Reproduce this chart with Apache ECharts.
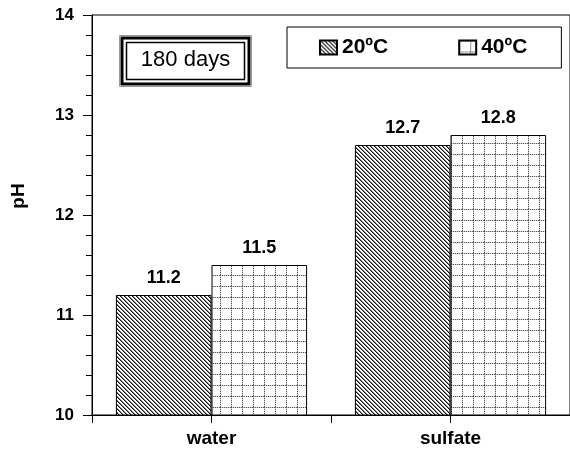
<!DOCTYPE html>
<html>
<head>
<meta charset="utf-8">
<script src="https://cdn.jsdelivr.net/npm/echarts@6/dist/echarts.min.js"></script>
<style>
html,body{margin:0;padding:0;background:#fff;}
#chart{width:570px;height:451px;}
</style>
</head>
<body>
<div id="chart"></div>
<script>
const categories = ['water', 'sulfate'];
const series20 = [11.2, 12.7];
const series40 = [11.5, 12.8];
const seriesNames = ['20ºC', '40ºC'];
const yTicks = [10, 11, 12, 13, 14];
const boxText = '180 days';

function hatchTile() {
  const s = 4;
  const c = document.createElement('canvas');
  c.width = s; c.height = s;
  const ctx = c.getContext('2d');
  const img = ctx.createImageData(s, s);
  for (let y = 0; y < s; y++) {
    for (let x = 0; x < s; x++) {
      const k = ((x - y) % s + s) % s;
      let v = 255;
      if (k === 0) v = 15;
      else if (k === 1) v = 130;
      const i = (y * s + x) * 4;
      img.data[i] = img.data[i+1] = img.data[i+2] = v;
      img.data[i+3] = 255;
    }
  }
  ctx.putImageData(img, 0, 0);
  return c;
}
function gridTile() {
  const s = 11;
  const c = document.createElement('canvas');
  c.width = s; c.height = s;
  const ctx = c.getContext('2d');
  const img = ctx.createImageData(s, s);
  for (let y = 0; y < s; y++) {
    for (let x = 0; x < s; x++) {
      let v = 255;
      if (x === 0) v = (y % 2 === 0) ? 90 : 205;
      if (y === 0) v = (x % 2 === 0) ? 90 : 205;
      const i = (y * s + x) * 4;
      img.data[i] = img.data[i+1] = img.data[i+2] = v;
      img.data[i+3] = 255;
    }
  }
  ctx.putImageData(img, 0, 0);
  return c;
}

const FONT = '"Liberation Sans", Arial, Helvetica, sans-serif';
const chart = echarts.init(document.getElementById('chart'), null, {renderer: 'canvas'});

const labelCfg = {
  show: true,
  position: 'top',
  distance: 8,
  color: '#000',
  fontFamily: FONT,
  fontWeight: 'bold',
  fontSize: 18,
  formatter: p => p.value.toFixed(1)
};

chart.setOption({
  animation: false,
  backgroundColor: '#fff',
  grid: {
    left: 92, top: 15, right: -2, bottom: 36,
    show: true, borderColor: '#000', borderWidth: 1, backgroundColor: 'transparent'
  },
  legend: {
    data: seriesNames,
    left: 287, top: 27,
    padding: [10, 34, 10, 32],
    itemGap: 70,
    itemWidth: 17, itemHeight: 14,
    borderColor: '#000', borderWidth: 1,
    icon: 'rect',
    textStyle: {fontFamily: FONT, fontWeight: 'bold', fontSize: 21, color: '#000'}
  },
  xAxis: [{
    type: 'category',
    data: categories,
    axisLine: {show: true, lineStyle: {color: '#000', width: 1}},
    axisTick: {show: false},
    axisLabel: {margin: 14, color: '#000', fontFamily: FONT, fontWeight: 'bold', fontSize: 19},
    splitLine: {show: false}
  }, {
    type: 'value',
    position: 'bottom',
    min: 0, max: 2, interval: 0.5,
    axisLine: {show: false},
    axisTick: {show: true, length: 8, lineStyle: {color: '#000', width: 1}},
    axisLabel: {show: false},
    splitLine: {show: false}
  }],
  yAxis: {
    type: 'value',
    min: yTicks[0], max: yTicks[yTicks.length - 1], interval: 1,
    axisLine: {show: true, lineStyle: {color: '#000', width: 1}},
    axisTick: {show: true, length: 9, lineStyle: {color: '#000', width: 1}},
    minorTick: {show: true, splitNumber: 5, length: 6, lineStyle: {color: '#000', width: 1}},
    axisLabel: {margin: 18, color: '#000', fontFamily: FONT, fontWeight: 'bold', fontSize: 17,
      formatter: v => String(v)},
    splitLine: {show: false}
  },
  series: [{
    name: seriesNames[0],
    type: 'bar',
    data: series20,
    barWidth: '40%',
    barGap: '0%',
    itemStyle: {color: {image: hatchTile(), repeat: 'repeat'}, borderColor: '#000', borderWidth: 1},
    label: labelCfg
  }, {
    name: seriesNames[1],
    type: 'bar',
    data: series40,
    barWidth: '40%',
    barGap: '0%',
    itemStyle: {color: {image: gridTile(), repeat: 'repeat'}, borderColor: '#000', borderWidth: 1},
    label: labelCfg
  }],
  graphic: [
    {type: 'rect', shape: {x: 119.5, y: 35.5, width: 132, height: 51}, style: {fill: '#fff', stroke: '#999', lineWidth: 1}, z: 10},
    {type: 'rect', shape: {x: 122, y: 38, width: 127, height: 46}, style: {fill: 'none', stroke: '#000', lineWidth: 3}, z: 11},
    {type: 'rect', shape: {x: 126.5, y: 42.5, width: 118, height: 37}, style: {fill: 'none', stroke: '#000', lineWidth: 1.5}, z: 11},
    {type: 'text', x: 185.5, y: 60, z: 12, style: {text: boxText, fill: '#000', font: '22px ' + FONT, align: 'center', verticalAlign: 'middle'}},
    {type: 'text', x: 19, y: 196, rotation: Math.PI / 2, z: 12, style: {text: 'pH', fill: '#000', font: 'bold 19px ' + FONT, align: 'center', verticalAlign: 'middle'}}
  ]
});
</script>
</body>
</html>
